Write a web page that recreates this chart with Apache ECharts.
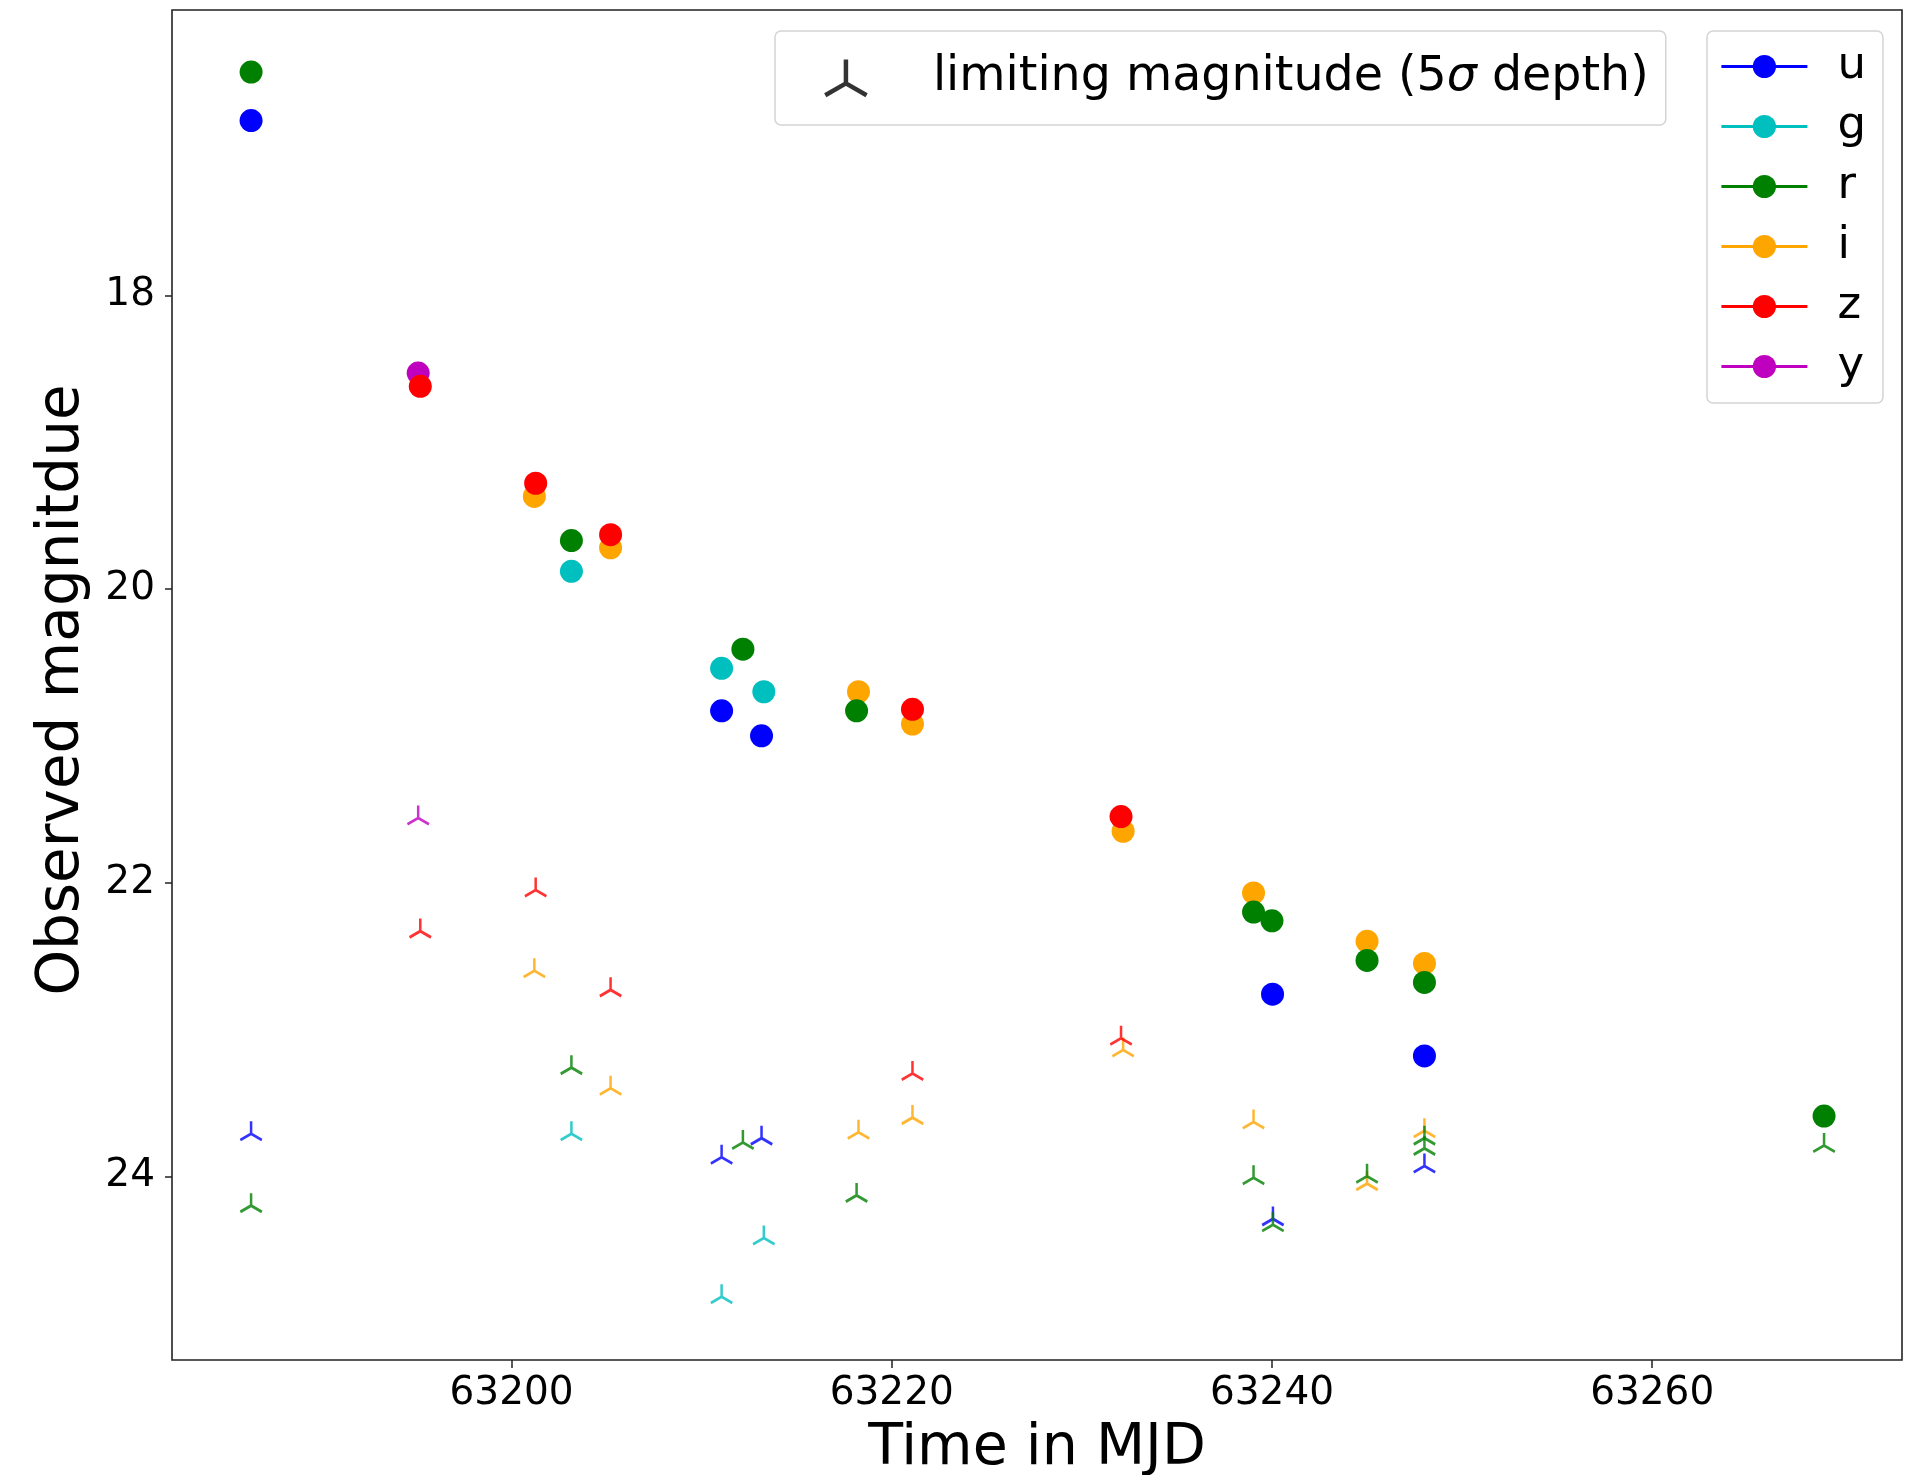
<!DOCTYPE html>
<html><head><meta charset="utf-8">
<script src="https://cdn.jsdelivr.net/npm/echarts@6/dist/echarts.min.js"></script>
<style>html,body{margin:0;padding:0;background:#fff}#c{width:1910px;height:1475px}</style>
</head><body><div id="c"></div>
<script>
// ---- data (MJD, observed magnitude) ----
const filterNames = ['u', 'g', 'r', 'i', 'z', 'y'];
const uDet = [[63186.3, 16.81], [63211.05, 20.83], [63213.15, 21.00], [63240.03, 22.76], [63248.02, 23.18]];
const uLim = [[63186.3, 23.71], [63211.05, 23.87], [63213.15, 23.74], [63240.05, 24.29], [63248.02, 23.93]];
const gDet = [[63203.15, 19.88], [63211.05, 20.54], [63213.27, 20.70]];
const gLim = [[63203.15, 23.71], [63211.05, 24.82], [63213.27, 24.42]];
const rDet = [[63186.3, 16.48], [63203.15, 19.67], [63212.17, 20.41], [63218.15, 20.83], [63239.03, 22.20], [63240.0, 22.26], [63245.0, 22.53], [63248.02, 22.68], [63269.04, 23.59]];
const rLim = [[63186.3, 24.20], [63203.15, 23.26], [63212.17, 23.77], [63218.15, 24.13], [63239.03, 24.01], [63240.05, 24.33], [63245.0, 24.00], [63248.02, 23.74], [63248.02, 23.81], [63269.04, 23.79]];
const iDet = [[63201.2, 19.37], [63205.21, 19.72], [63218.25, 20.70], [63221.09, 20.92], [63232.17, 21.65], [63239.03, 22.07], [63245.0, 22.40], [63248.02, 22.55]];
const iLim = [[63201.2, 22.60], [63205.21, 23.40], [63218.25, 23.70], [63221.09, 23.60], [63232.17, 23.14], [63239.03, 23.63], [63245.0, 24.05], [63248.02, 23.69]];
const zDet = [[63195.2, 18.62], [63201.27, 19.28], [63205.21, 19.63], [63221.09, 20.82], [63232.06, 21.55]];
const zLim = [[63195.2, 22.33], [63201.27, 22.05], [63205.21, 22.73], [63221.09, 23.30], [63232.06, 23.06]];
const yDet = [[63195.09, 18.53]];
const yLim = [[63195.09, 21.56]];
const xTicks = [63200, 63220, 63240, 63260];
const yTicks = [18, 20, 22, 24];
const limitLabel = 'limiting magnitude (5σ depth)';

// ---- styling ----
const FONT = 'DejaVu Sans';
const colorOf = { u: '#0000ff', g: '#00bfbf', r: '#008000', i: '#ffa500', z: '#ff0000', y: '#bf00bf' };
const detOf = { u: uDet, g: gDet, r: rDet, i: iDet, z: zDet, y: yDet };
const limOf = { u: uLim, g: gLim, r: rLim, i: iLim, z: zLim, y: yLim };
const triPath = 'path://M0,1M0,0L0,-1M0,0L-0.866,0.5M0,0L0.866,0.5';
const triLegendPath = 'path://M0,0.55M0,0L0,-1M0,0L-0.866,0.5M0,0L0.866,0.5';
const drawOrder = ['y', 'u', 'g', 'i', 'z', 'r'];

const series = [];
drawOrder.forEach(f => {
  series.push({
    name: f + ' limit', type: 'scatter', data: limOf[f],
    symbol: triPath, symbolSize: [21.5, 25],
    itemStyle: { color: colorOf[f], borderColor: colorOf[f], borderWidth: 2.7 },
    z: 2
  });
});
// legend-only series for the limiting-magnitude marker
series.push({
  name: limitLabel, type: 'scatter', data: [],
  symbol: triLegendPath, symbolSize: [21.5, 25],
  itemStyle: { color: '#000', borderColor: '#000', borderWidth: 2.6 }
});
// detections: points only (the line is only shown in the legend)
filterNames.forEach(f => {
  series.push({
    name: f, type: 'line', data: detOf[f],
    symbol: 'circle', symbolSize: 23, showSymbol: true,
    lineStyle: { width: 0, opacity: 0 },
    itemStyle: { color: colorOf[f] },
    z: 3 + drawOrder.indexOf(f)
  });
});

const chart = echarts.init(document.getElementById('c'), null, { renderer: 'canvas' });
chart.setOption({
  animation: false,
  backgroundColor: '#fff',
  grid: {
    left: 172, right: 8, top: 10, bottom: 115,
    containLabel: false, outerBoundsMode: 'none',
    show: true, borderColor: '#222', borderWidth: 1.6, backgroundColor: 'transparent'
  },
  xAxis: {
    type: 'value', min: 63182.14, max: 63273.14,
    axisLine: { show: false, onZero: false },
    axisTick: { show: true, length: 8, customValues: xTicks, lineStyle: { color: '#222', width: 1.5 } },
    axisLabel: { customValues: xTicks, margin: 14, fontSize: 39, fontFamily: FONT, color: '#000', formatter: v => String(v) },
    splitLine: { show: false },
    name: 'Time in MJD', nameLocation: 'middle', nameGap: 61,
    nameTextStyle: { fontSize: 57, fontFamily: FONT, color: '#000' }
  },
  yAxis: {
    type: 'value', inverse: true, min: 16.057, max: 25.251,
    axisLine: { show: false, onZero: false },
    axisTick: { show: true, length: 7, customValues: yTicks, lineStyle: { color: '#222', width: 1.5 } },
    axisLabel: { customValues: yTicks, margin: 17, fontSize: 39, fontFamily: FONT, color: '#000', formatter: v => String(v) },
    splitLine: { show: false },
    name: 'Observed magnitdue', nameLocation: 'middle', nameGap: 80, nameRotate: 90,
    nameTextStyle: { fontSize: 58, fontFamily: FONT, color: '#000', padding: [0, 10, 0, 0] }
  },
  legend: [
    {
      data: [{ name: limitLabel, icon: triLegendPath }],
      left: 775, top: 31,
      padding: [23, 17, 23, 48],
      itemWidth: 42, itemHeight: 37,
      itemStyle: { color: '#000', borderColor: '#000', borderWidth: 4.5 },
      formatter: () => 'limiting magnitude (5{it|σ} depth)',
      textStyle: {
        fontFamily: FONT, fontSize: 47.5, lineHeight: 47, color: '#000', padding: [0, 0, 0, 61],
        rich: { it: { fontFamily: FONT, fontStyle: 'italic', fontSize: 47.5, lineHeight: 47, color: '#000' } }
      },
      borderColor: '#d4d4d4', borderWidth: 1.5, borderRadius: 6,
      backgroundColor: 'rgba(255,255,255,0.8)',
      selectedMode: false
    },
    {
      data: filterNames,
      orient: 'vertical',
      left: 1707, top: 31,
      padding: [12, 17, 13, 13],
      itemGap: 13,
      itemWidth: 86, itemHeight: 29,
      lineStyle: { width: 2.8, opacity: 1 },
      textStyle: { fontFamily: FONT, fontSize: 45, lineHeight: 47, color: '#000', padding: [0, 0, 0, 25] },
      borderColor: '#d4d4d4', borderWidth: 1.5, borderRadius: 6,
      backgroundColor: 'rgba(255,255,255,0.8)',
      selectedMode: false
    }
  ],
  series: series
});
</script>
</body></html>
